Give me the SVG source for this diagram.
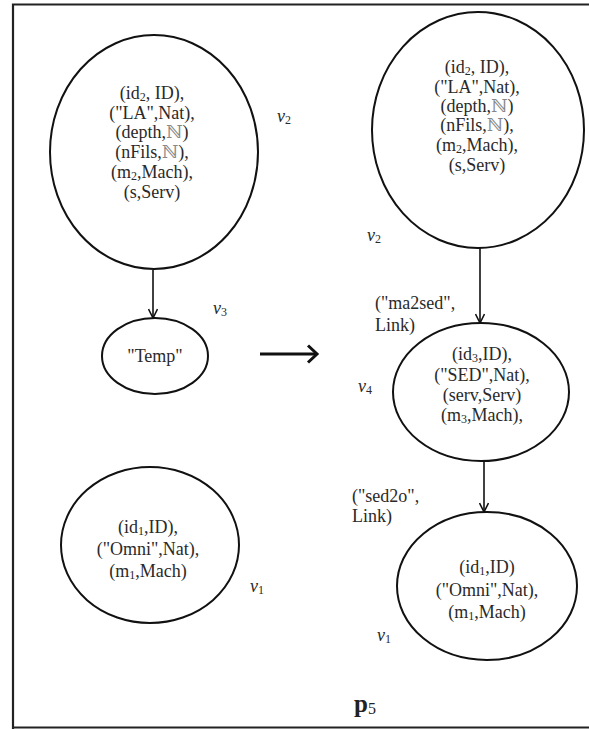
<svg xmlns="http://www.w3.org/2000/svg" width="589" height="729" viewBox="0 0 589 729">
<style>
.n{fill:#fff;stroke:#111;stroke-width:2}
.t{font-family:"Liberation Serif","DejaVu Serif",serif;font-size:18px;fill:#2a2a2a;text-anchor:middle}
.l{font-family:"Liberation Serif","DejaVu Serif",serif;font-size:18px;fill:#2a2a2a}
.v{font-family:"Liberation Serif","DejaVu Serif",serif;font-size:18px;font-style:italic;fill:#2a2a2a}
.s{font-size:12px;font-style:normal}
.bb{fill:#888}
.e{stroke:#111;stroke-width:1.6;fill:none}
</style>
<defs>
<marker id="ah" markerWidth="12" markerHeight="10" refX="10" refY="5" orient="auto" markerUnits="userSpaceOnUse">
<path d="M1,0.5 L10,5 L1,9.5" fill="none" stroke="#111" stroke-width="1.6"/>
</marker>
<marker id="bh" markerWidth="14" markerHeight="20" refX="11" refY="10" orient="auto" markerUnits="userSpaceOnUse">
<path d="M2,1.5 L11,10 L2,18.5" fill="none" stroke="#111" stroke-width="3"/>
</marker>
</defs>
<rect width="589" height="729" fill="#fff"/>
<g id="frame" fill="none" stroke="#222" stroke-width="2.2">
<path d="M13,729 V4.5 H589"/>
<path d="M13,727.5 H589"/>
</g>
<g id="connectors">
<line class="e" x1="153" y1="270" x2="153" y2="318" marker-end="url(#ah)"/>
<line class="e" x1="480" y1="248" x2="480" y2="323" marker-end="url(#ah)"/>
<line class="e" x1="484" y1="461" x2="484" y2="512" marker-end="url(#ah)"/>
<line stroke="#111" stroke-width="3" x1="260" y1="354" x2="317" y2="354" marker-end="url(#bh)"/>
<text class="l" x="375" y="309">("ma2sed",</text>
<text class="l" x="375" y="331">Link)</text>
<text class="l" x="352" y="502">("sed2o",</text>
<text class="l" x="352" y="522">Link)</text>
</g>
<g id="v2-left">
<ellipse class="n" cx="154" cy="152" rx="104" ry="117"/>
<text class="t" x="152" y="99">(id<tspan class="s" dy="2">2</tspan><tspan dy="-2">, ID),</tspan></text>
<text class="t" x="152" y="119">("LA",Nat),</text>
<text class="t" x="152" y="138">(depth,<tspan class="bb">ℕ</tspan>)</text>
<text class="t" x="152" y="158">(nFils,<tspan class="bb">ℕ</tspan>),</text>
<text class="t" x="152" y="178">(m<tspan class="s" dy="2">2</tspan><tspan dy="-2">,Mach),</tspan></text>
<text class="t" x="152" y="198">(s,Serv)</text>
<text class="v" x="277" y="122">v<tspan class="s" dy="2">2</tspan></text>
</g>
<g id="v3">
<ellipse class="n" cx="155" cy="356" rx="53" ry="38"/>
<text class="t" x="155" y="362">"Temp"</text>
<text class="v" x="213" y="314">v<tspan class="s" dy="2">3</tspan></text>
</g>
<g id="v1-left">
<ellipse class="n" cx="150" cy="545" rx="89" ry="78"/>
<text class="t" x="148" y="533">(id<tspan class="s" dy="2">1</tspan><tspan dy="-2">,ID),</tspan></text>
<text class="t" x="148" y="555">("Omni",Nat),</text>
<text class="t" x="148" y="577">(m<tspan class="s" dy="2">1</tspan><tspan dy="-2">,Mach)</tspan></text>
<text class="v" x="250" y="592">v<tspan class="s" dy="2">1</tspan></text>
</g>
<g id="v2-right">
<ellipse class="n" cx="478" cy="130" rx="106" ry="118"/>
<text class="t" x="477" y="73">(id<tspan class="s" dy="2">2</tspan><tspan dy="-2">, ID),</tspan></text>
<text class="t" x="477" y="93">("LA",Nat),</text>
<text class="t" x="477" y="112">(depth,<tspan class="bb">ℕ</tspan>)</text>
<text class="t" x="477" y="131">(nFils,<tspan class="bb">ℕ</tspan>),</text>
<text class="t" x="477" y="151">(m<tspan class="s" dy="2">2</tspan><tspan dy="-2">,Mach),</tspan></text>
<text class="t" x="477" y="171">(s,Serv)</text>
<text class="v" x="367" y="241">v<tspan class="s" dy="2">2</tspan></text>
</g>
<g id="v4">
<ellipse class="n" cx="481" cy="392" rx="88" ry="69"/>
<text class="t" x="482" y="360">(id<tspan class="s" dy="2">3</tspan><tspan dy="-2">,ID),</tspan></text>
<text class="t" x="482" y="381">("SED",Nat),</text>
<text class="t" x="482" y="401">(serv,Serv)</text>
<text class="t" x="482" y="421">(m<tspan class="s" dy="2">3</tspan><tspan dy="-2">,Mach),</tspan></text>
<text class="v" x="358" y="392">v<tspan class="s" dy="2">4</tspan></text>
</g>
<g id="v1-right">
<ellipse class="n" cx="487" cy="586" rx="90" ry="74"/>
<text class="t" x="487" y="573">(id<tspan class="s" dy="2">1</tspan><tspan dy="-2">,ID)</tspan></text>
<text class="t" x="487" y="596">("Omni",Nat),</text>
<text class="t" x="487" y="618">(m<tspan class="s" dy="2">1</tspan><tspan dy="-2">,Mach)</tspan></text>
<text class="v" x="377" y="641">v<tspan class="s" dy="2">1</tspan></text>
</g>
<g id="title">
<text x="354" y="712" font-family="Liberation Serif, DejaVu Serif, serif" font-size="25" font-weight="bold" fill="#222">p<tspan font-size="16" font-weight="normal" dy="2">5</tspan></text>
</g>
</svg>
